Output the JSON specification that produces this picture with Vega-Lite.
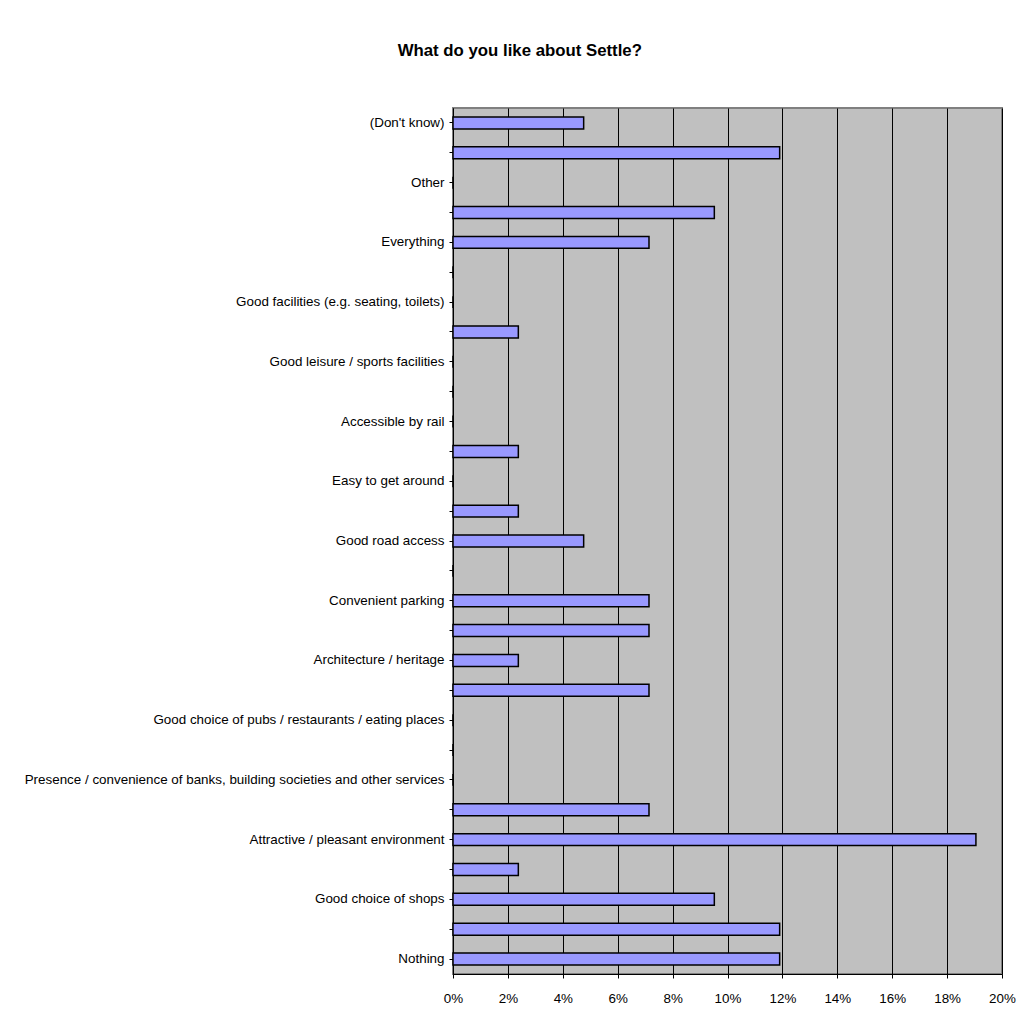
{
  "$schema": "https://vega.github.io/schema/vega-lite/v6.json",
  "padding": {"left": 24, "top": 43, "right": 10, "bottom": 20},
  "width": 549,
  "height": 866,
  "background": "white",
  "title": {
    "text": "What do you like about Settle?",
    "font": "Liberation Sans",
    "fontSize": 16.8,
    "fontWeight": "bold",
    "color": "black",
    "anchor": "middle",
    "frame": "bounds",
    "offset": 48
  },
  "data": {
    "values": [
      {"category": "(Don't know)", "share": 0.0476},
      {"category": "Unlabelled 1", "share": 0.1190},
      {"category": "Other", "share": 0},
      {"category": "Unlabelled 2", "share": 0.0952},
      {"category": "Everything", "share": 0.0714},
      {"category": "Unlabelled 3", "share": 0},
      {"category": "Good facilities (e.g. seating, toilets)", "share": 0},
      {"category": "Unlabelled 4", "share": 0.0238},
      {"category": "Good leisure / sports facilities", "share": 0},
      {"category": "Unlabelled 5", "share": 0},
      {"category": "Accessible by rail", "share": 0},
      {"category": "Unlabelled 6", "share": 0.0238},
      {"category": "Easy to get around", "share": 0},
      {"category": "Unlabelled 7", "share": 0.0238},
      {"category": "Good road access", "share": 0.0476},
      {"category": "Unlabelled 8", "share": 0},
      {"category": "Convenient parking", "share": 0.0714},
      {"category": "Unlabelled 9", "share": 0.0714},
      {"category": "Architecture / heritage", "share": 0.0238},
      {"category": "Unlabelled 10", "share": 0.0714},
      {"category": "Good choice of pubs / restaurants / eating places", "share": 0},
      {"category": "Unlabelled 11", "share": 0},
      {"category": "Presence / convenience of banks, building societies and other services", "share": 0},
      {"category": "Unlabelled 12", "share": 0.0714},
      {"category": "Attractive / pleasant environment", "share": 0.1905},
      {"category": "Unlabelled 13", "share": 0.0238},
      {"category": "Good choice of shops", "share": 0.0952},
      {"category": "Unlabelled 14", "share": 0.1190},
      {"category": "Nothing", "share": 0.1190}
    ]
  },
  "mark": {"type": "bar", "fill": "#9999FF", "stroke": "black", "strokeWidth": 1.5},
  "encoding": {
    "y": {
      "field": "category",
      "type": "nominal",
      "sort": null,
      "title": null,
      "scale": {"paddingInner": 0.6, "paddingOuter": 0.3},
      "axis": {
        "labelExpr": "indexof(datum.value, 'Unlabelled') == 0 ? '' : datum.value",
        "tickSize": 4,
        "tickColor": "black",
        "domainColor": "black",
        "labelPadding": 5,
        "labelFont": "Liberation Sans",
        "labelFontSize": 13.4,
        "labelColor": "black",
        "labelLimit": 600
      }
    },
    "x": {
      "field": "share",
      "type": "quantitative",
      "title": null,
      "scale": {"domain": [0, 0.2], "nice": false},
      "axis": {
        "values": [0, 0.02, 0.04, 0.06, 0.08, 0.1, 0.12, 0.14, 0.16, 0.18, 0.2],
        "format": ".0%",
        "grid": true,
        "gridColor": "black",
        "gridOpacity": 1,
        "gridWidth": 1,
        "tickSize": 4,
        "tickColor": "black",
        "domainColor": "black",
        "labelPadding": 13,
        "labelFont": "Liberation Sans",
        "labelFontSize": 13.4,
        "labelColor": "black",
        "labelFlush": false
      }
    }
  },
  "config": {
    "view": {"fill": "#C0C0C0", "stroke": "#808080", "strokeWidth": 2}
  }
}
